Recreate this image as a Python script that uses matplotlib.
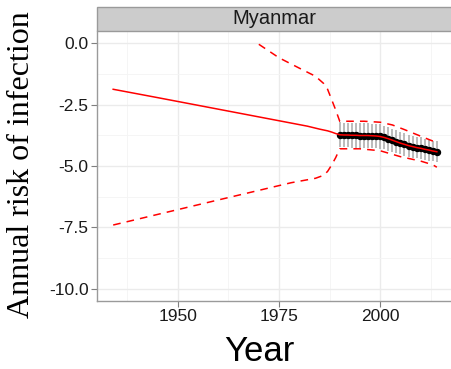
import matplotlib
matplotlib.use("Agg")
import matplotlib.pyplot as plt
from matplotlib.patches import Rectangle
import numpy as np

plt.rcParams['font.family'] = ['Liberation Sans', 'DejaVu Sans']
plt.rcParams['axes.unicode_minus'] = False

# model curve before the observation period
years_pre = [1934, 1945, 1960, 1975, 1982, 1985, 1987, 1988, 1989]
center_pre = [-1.88, -2.22, -2.69, -3.16, -3.38, -3.50, -3.57, -3.62, -3.68]

# annual estimates with error bars
years_obs = list(range(1990, 2015))
center_obs = [-3.73, -3.74, -3.74, -3.75, -3.75, -3.76, -3.76, -3.76, -3.77, -3.78,
              -3.80, -3.84, -3.89, -3.95, -4.01, -4.07, -4.12, -4.17, -4.21, -4.25,
              -4.28, -4.32, -4.35, -4.39, -4.42]
err_half = [0.50, 0.50, 0.50, 0.50, 0.50, 0.50, 0.50, 0.50, 0.49, 0.49,
            0.49, 0.48, 0.48, 0.47, 0.47, 0.46, 0.46, 0.45, 0.45, 0.44,
            0.44, 0.43, 0.43, 0.42, 0.42]

# uncertainty band (dashed)
upper_years = [1970, 1975, 1980, 1984, 1986, 1987, 1988, 1989, 1990, 1993, 1996,
               2000, 2003, 2006, 2009, 2012, 2014]
upper = [-0.05, -0.60, -1.02, -1.35, -1.64, -1.88, -2.30, -2.72, -3.18, -3.18, -3.18,
         -3.22, -3.33, -3.52, -3.72, -3.92, -4.05]
lower_years = [1934, 1960, 1978, 1984, 1986, 1987, 1988, 1989, 1990, 1995, 2000,
               2005, 2010, 2013, 2014]
lower = [-7.40, -6.38, -5.68, -5.50, -5.38, -5.22, -4.96, -4.66, -4.30, -4.30, -4.38,
         -4.62, -4.80, -4.95, -5.05]

country = "Myanmar"

fig = plt.figure(figsize=(4.52, 3.69), dpi=100)
ax = fig.add_axes([97 / 452, 68 / 369, 356 / 452, 270 / 369])

# error bars
lo = np.array(center_obs) - np.array(err_half)
hi = np.array(center_obs) + np.array(err_half)
ax.vlines(years_obs, lo, hi, color='#A8A8A8', lw=1.1, zorder=2)

ax.plot(upper_years, upper, color='#FF0000', lw=1.1, ls=(0, (5, 4)), zorder=4)
ax.plot(lower_years, lower, color='#FF0000', lw=1.1, ls=(0, (5, 4)), zorder=4)

ax.plot(years_obs, center_obs, 'o', color='black', ms=4.3, zorder=3)
ax.plot(years_pre + years_obs, center_pre + center_obs, color='#FF0000', lw=1.1, zorder=5)

ax.set_xlim(1930, 2018)
ax.set_ylim(-10.49, 0.49)
ax.set_xticks([1950, 1975, 2000])
ax.set_xticks([1937.5, 1962.5, 1987.5, 2012.5], minor=True)
ax.set_yticks([0, -2.5, -5, -7.5, -10])
ax.set_yticklabels(['0.0', '-2.5', '-5.0', '-7.5', '-10.0'])
ax.set_yticks([-1.25, -3.75, -6.25, -8.75], minor=True)

ax.grid(which='major', color='#EBEBEB', lw=1.0)
ax.grid(which='minor', color='#F4F4F4', lw=0.6)
ax.set_axisbelow(True)

for s in ['left', 'bottom']:
    ax.spines[s].set_color('#9A9A9A')
    ax.spines[s].set_linewidth(1.0)
ax.spines['top'].set_visible(False)
ax.spines['right'].set_visible(False)

ax.tick_params(which='major', length=4, width=0.8, color='#7F7F7F',
               labelsize=12.5, labelcolor='#1A1A1A', pad=2)
ax.tick_params(which='minor', length=0)

# facet strip
strip = Rectangle((0, 1.0), 1.0, 24 / 270, transform=ax.transAxes,
                  facecolor='#CCCCCC', edgecolor='#9A9A9A', lw=1.0, clip_on=False)
ax.add_patch(strip)
ax.text((274 - 97) / 356, 1.0 + 12 / 270, country, transform=ax.transAxes,
        ha='center', va='center', fontsize=14.5, color='#1A1A1A')

fig.text(259 / 452, 1 / 369, "Year", ha='center', va='bottom', fontsize=25)
fig.text(22 / 452, 204 / 369, "Annual risk of infection", rotation=90,
         ha='center', va='center', fontsize=23, family='Liberation Serif')

fig.savefig("out.png", dpi=100)
